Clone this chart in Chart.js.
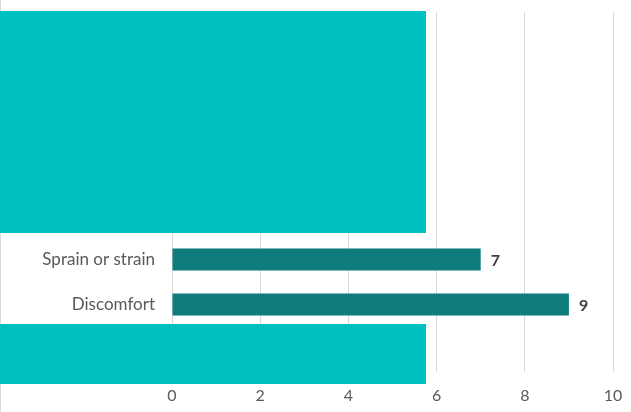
<!DOCTYPE html>
<html>
<head>
<meta charset="utf-8">
<script src="https://cdn.jsdelivr.net/npm/chart.js@4/dist/chart.umd.min.js"></script>
<style>
  html, body { margin: 0; padding: 0; background: #ffffff; }
  #wrap { width: 631px; height: 412px; position: relative; }
</style>
</head>
<body>
<div id="wrap"><canvas id="c"></canvas></div>
<script>
// Categories (the ones hidden under the covering boxes are unreadable)
const categories = ["", "", "", "", "", "Sprain or strain", "Discomfort", ""];
// Series values
const counts = [null, null, null, null, null, 7, 9, null];
// Tick labels on the value axis
const xTicks = [0, 2, 4, 6, 8, 10];

// Plugin: covering boxes (redaction blocks over hidden categories), expressed in scale units
const coverPlugin = {
  id: 'cover',
  afterDatasetsDraw(chart, args, opts) {
    const { ctx } = chart;
    const xs = chart.scales.x, ys = chart.scales.y;
    ctx.save();
    ctx.fillStyle = opts.color;
    for (const b of opts.boxes) {
      const x1 = xs.getPixelForValue(b.xTo);
      const y0 = ys.getPixelForValue(b.yFrom);
      const y1 = ys.getPixelForValue(b.yTo);
      ctx.fillRect(0, Math.round(y0), Math.round(x1), Math.round(y1 - y0));
    }
    ctx.restore();
  }
};

// Plugin: value labels at bar ends
const valueLabels = {
  id: 'valueLabels',
  afterDatasetsDraw(chart) {
    const { ctx } = chart;
    const meta = chart.getDatasetMeta(0);
    ctx.save();
    ctx.font = 'bold 16px Lato, "Liberation Sans", sans-serif';
    ctx.fillStyle = '#404040';
    ctx.textAlign = 'left';
    ctx.textBaseline = 'middle';
    meta.data.forEach((bar, i) => {
      const v = chart.data.datasets[0].data[i];
      if (v === null || v === undefined) return;
      ctx.fillText(String(v), bar.x + 10, bar.y + 1);
    });
    ctx.restore();
  }
};

// Plugin: light frame line at the left edge
const frame = {
  id: 'frame',
  beforeDraw(chart) {
    const { ctx } = chart;
    ctx.save();
    ctx.strokeStyle = '#d9d9d9';
    ctx.lineWidth = 1;
    ctx.beginPath();
    ctx.moveTo(0.5, 0);
    ctx.lineTo(0.5, chart.height);
    ctx.stroke();
    ctx.restore();
  }
};

new Chart(document.getElementById('c'), {
  type: 'bar',
  data: {
    labels: categories,
    datasets: [{
      data: counts,
      backgroundColor: '#107B7B',
      borderWidth: 0,
      barPercentage: 0.49,
      categoryPercentage: 1.0
    }]
  },
  options: {
    indexAxis: 'y',
    responsive: true,
    maintainAspectRatio: false,
    animation: false,
    layout: { padding: { top: 12, right: 18, bottom: 0, left: 0 } },
    plugins: {
      legend: { display: false },
      tooltip: { enabled: false },
      cover: {
        color: '#00C0C0',
        boxes: [
          { yFrom: -0.52, yTo: 4.42, xTo: 5.75 },
          { yFrom: 6.43, yTo: 7.77, xTo: 5.75 }
        ]
      }
    },
    scales: {
      x: {
        min: 0,
        max: 10,
        afterBuildTicks(scale) { scale.ticks = xTicks.map(v => ({ value: v })); },
        afterFit(scale) { scale.height = 40; scale.paddingLeft = 0; scale.paddingRight = 0; },
        grid: { color: '#d9d9d9', lineWidth: 1, drawTicks: false },
        border: { display: false },
        ticks: {
          color: '#595959',
          padding: 14,
          font: { family: 'Lato, "Liberation Sans", sans-serif', size: 16 }
        }
      },
      y: {
        afterFit(scale) { scale.width = 172; scale.paddingTop = 0; scale.paddingBottom = 0; },
        grid: { display: false, drawTicks: false },
        border: { display: false },
        ticks: {
          color: '#595959',
          padding: 17,
          autoSkip: false,
          font: { family: 'Lato, "Liberation Sans", sans-serif', size: 17 }
        }
      }
    }
  },
  plugins: [frame, coverPlugin, valueLabels]
});
</script>
</body>
</html>
